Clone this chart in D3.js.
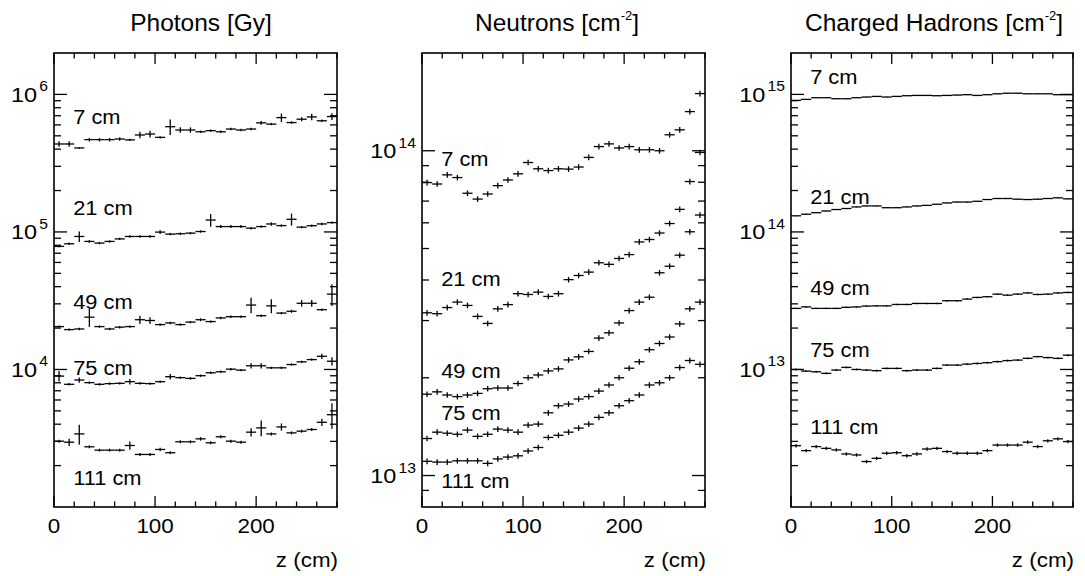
<!DOCTYPE html>
<html>
<head>
<meta charset="utf-8">
<script src="https://cdn.jsdelivr.net/npm/d3@7"></script>
<style>
  body { margin: 0; background: #fff; }
  svg { display: block; font-family: "Liberation Sans", Arial, Helvetica, sans-serif; }
</style>
</head>
<body>
<svg id="chart" width="1085" height="576"></svg>
<script>
// bins are 10 cm wide, centres at 5, 15, ... 275
const zCentres = d3.range(5, 280, 10);
const binHalfWidth = 5;
const radii = ['7 cm', '21 cm', '49 cm', '75 cm', '111 cm'];
const xTickLabels = [0, 100, 200];

// Photons [Gy]
const photons7 = [4.36e5, 4.36e5, 4.08e5, 4.69e5, 4.69e5, 4.69e5, 4.74e5, 4.67e5, 5.07e5, 5.15e5, 4.87e5, 5.82e5, 5.51e5, 5.51e5,
    5.35e5, 5.45e5, 5.35e5, 5.6e5, 5.51e5, 5.6e5, 6.21e5, 6.08e5, 6.78e5, 6.24e5, 6.6e5, 6.86e5, 6.43e5, 6.9e5];
const photons21 = [7.85e4, 8.2e4, 9.27e4, 8.53e4, 8.3e4, 8.53e4, 8.9e4, 9.27e4, 9.27e4, 9.27e4, 9.97e4, 9.64e4, 9.7e4, 9.8e4,
    1.007e5, 1.22e5, 1.094e5, 1.094e5, 1.094e5, 1.065e5, 1.094e5, 1.143e5, 1.112e5, 1.236e5, 1.083e5, 1.11e5, 1.143e5, 1.169e5];
const photons49 = [2.05e4, 1.95e4, 1.97e4, 2.40e4, 2.05e4, 1.97e4, 2.03e4, 2.05e4, 2.30e4, 2.27e4, 2.12e4, 2.18e4, 2.12e4, 2.21e4,
    2.30e4, 2.23e4, 2.37e4, 2.42e4, 2.42e4, 2.94e4, 2.46e4, 2.9e4, 2.57e4, 2.65e4, 3.03e4, 3.03e4, 2.72e4, 3.53e4];
const photons75 = [8.95e3, 7.8e3, 8.38e3, 8.02e3, 7.8e3, 7.89e3, 7.93e3, 8.15e3, 7.93e3, 7.89e3, 8.15e3, 8.86e3, 8.72e3, 8.61e3,
    9.01e3, 9.46e3, 9.62e3, 1.005e4, 9.89e3, 1.064e4, 1.064e4, 1.028e4, 1.028e4, 1.086e4, 1.136e4, 1.18e4, 1.247e4, 1.148e4];
const photons111 = [3.01e3, 2.96e3, 3.40e3, 2.74e3, 2.59e3, 2.59e3, 2.59e3, 2.80e3, 2.41e3, 2.41e3, 2.62e3, 2.48e3, 2.98e3, 2.98e3,
    3.13e3, 2.93e3, 3.24e3, 3.01e3, 2.96e3, 3.5e3, 3.76e3, 3.40e3, 3.82e3, 3.46e3, 3.56e3, 3.66e3, 4.13e3, 4.69e3];
// relative errors of the photon doses
const photonErr7 = [.045, .045, .012, .03, .03, .03, .03, .02, .055, .055, .02, .13, .045, .045,
    .02, .02, .02, .02, .02, .02, .03, .02, .07, .02, .035, .055, .02, .055];
const photonErr21 = [.02, .02, .087, .025, .02, .02, .02, .02, .02, .02, .03, .02, .02, .02,
    .02, .105, .025, .025, .025, .02, .02, .03, .02, .1, .02, .02, .02, .02];
const photonErr49 = [.02, .02, .02, .15, .02, .02, .02, .02, .069, .055, .02, .02, .02, .02,
    .025, .02, .02, .02, .02, .13, .02, .117, .02, .025, .055, .055, .02, .18];
const photonErr75 = [.087, .02, .045, .02, .02, .02, .02, .045, .02, .02, .02, .045, .02, .02,
    .02, .02, .02, .02, .02, .045, .045, .02, .02, .02, .02, .02, .045, .07];
const photonErr111 = [.025, .06, .167, .025, .025, .025, .025, .07, .025, .025, .03, .025, .025, .025,
    .03, .025, .025, .025, .025, .07, .13, .025, .06, .025, .025, .025, .06, .21];

// Neutrons [cm^-2]
const neutrons7 = [7.98e13, 7.9e13, 8.43e13, 8.27e13, 7.4e13, 7.1e13, 7.36e13, 7.81e13, 8.13e13, 8.49e13, 9.2e13, 8.8e13, 8.69e13, 8.8e13,
    8.78e13, 8.91e13, 9.54e13, 1.03e14, 1.05e14, 1.02e14, 1.03e14, 1.007e14, 1.007e14, 1.0e14, 1.12e14, 1.16e14, 1.32e14, 1.5e14];
const neutrons21 = [3.17e13, 3.15e13, 3.29e13, 3.42e13, 3.34e13, 3.09e13, 2.94e13, 3.26e13, 3.36e13, 3.63e13, 3.61e13, 3.67e13, 3.56e13, 3.63e13,
    4.01e13, 4.13e13, 4.23e13, 4.52e13, 4.47e13, 4.66e13, 4.79e13, 5.24e13, 5.33e13, 5.58e13, 5.97e13, 6.6e13, 8.04e13, 9.88e13];
const neutrons49 = [1.78e13, 1.81e13, 1.77e13, 1.75e13, 1.77e13, 1.79e13, 1.85e13, 1.86e13, 1.86e13, 1.92e13, 2.0e13, 2.04e13, 2.1e13, 2.13e13,
    2.27e13, 2.32e13, 2.41e13, 2.65e13, 2.75e13, 2.95e13, 3.22e13, 3.42e13, 3.54e13, 4.21e13, 4.41e13, 4.77e13, 5.63e13, 6.34e13];
const neutrons75 = [1.30e13, 1.36e13, 1.35e13, 1.34e13, 1.38e13, 1.32e13, 1.34e13, 1.39e13, 1.38e13, 1.36e13, 1.43e13, 1.44e13, 1.56e13, 1.64e13,
    1.66e13, 1.72e13, 1.75e13, 1.82e13, 1.90e13, 2.0e13, 2.14e13, 2.24e13, 2.44e13, 2.55e13, 2.67e13, 2.93e13, 3.26e13, 3.42e13];
const neutrons111 = [1.106e13, 1.10e13, 1.10e13, 1.11e13, 1.11e13, 1.11e13, 1.09e13, 1.125e13, 1.14e13, 1.15e13, 1.19e13, 1.22e13, 1.31e13, 1.33e13,
    1.36e13, 1.40e13, 1.44e13, 1.51e13, 1.56e13, 1.64e13, 1.70e13, 1.77e13, 1.90e13, 1.93e13, 2.0e13, 2.15e13, 2.26e13, 2.2e13];
const neutronErr = [.02, .02, .02, .02, .02];

// Charged hadrons [cm^-2]
const hadrons7 = [9.05e14, 9.2e14, 9.46e14, 9.46e14, 9.3e14, 9.3e14, 9.46e14, 9.57e14, 9.67e14, 9.57e14, 9.67e14, 9.78e14, 9.83e14, 9.83e14,
    9.78e14, 9.83e14, 9.89e14, 9.95e14, 9.83e14, 9.95e14, 1.01e15, 1.02e15, 1.02e15, 1.01e15, 1.01e15, 1.01e15, 9.95e14, 9.95e14];
const hadrons21 = [1.31e14, 1.345e14, 1.38e14, 1.42e14, 1.455e14, 1.48e14, 1.52e14, 1.545e14, 1.545e14, 1.50e14, 1.50e14, 1.52e14, 1.545e14, 1.56e14,
    1.59e14, 1.625e14, 1.65e14, 1.65e14, 1.67e14, 1.72e14, 1.75e14, 1.75e14, 1.73e14, 1.72e14, 1.73e14, 1.75e14, 1.77e14, 1.74e14];
const hadrons49 = [2.78e13, 2.85e13, 2.78e13, 2.78e13, 2.78e13, 2.83e13, 2.85e13, 2.89e13, 2.90e13, 2.90e13, 2.97e13, 2.97e13, 3.02e13, 3.02e13,
    3.02e13, 3.16e13, 3.16e13, 3.25e13, 3.34e13, 3.38e13, 3.53e13, 3.47e13, 3.53e13, 3.6e13, 3.51e13, 3.53e13, 3.6e13, 3.63e13];
const hadrons75 = [1.0e13, 9.73e12, 9.62e12, 9.37e12, 9.9e12, 1.035e13, 1.0e13, 9.9e12, 9.8e12, 1.018e13, 1.018e13, 9.8e12, 9.9e12, 9.9e12,
    1.018e13, 1.076e13, 1.076e13, 1.094e13, 1.106e13, 1.12e13, 1.14e13, 1.16e13, 1.17e13, 1.205e13, 1.24e13, 1.22e13, 1.205e13, 1.27e13];
const hadrons111 = [2.79e12, 2.57e12, 2.75e12, 2.67e12, 2.60e12, 2.43e12, 2.39e12, 2.14e12, 2.26e12, 2.46e12, 2.48e12, 2.36e12, 2.43e12, 2.64e12,
    2.67e12, 2.53e12, 2.46e12, 2.46e12, 2.46e12, 2.57e12, 2.82e12, 2.82e12, 2.82e12, 2.96e12, 2.75e12, 3.03e12, 3.13e12, 2.99e12];
const hadronErr = [.004, .006, .012, .016, .028];

// decades that get a "10^n" label, and where each radius label sits (value units)
const photonDecades = [4, 5, 6];
const neutronDecades = [13, 14];
const hadronDecades = [13, 14, 15];
const photonLabelAt = [6.1e5, 1.33e5, 2.75e4, 9.1e3, 1.45e3];
const neutronLabelAt = [9.0e13, 3.83e13, 2.0e13, 1.48e13, 9.15e12];
const hadronLabelAt = [1.19e15, 1.6e14, 3.48e13, 1.23e13, 3.4e12];

const panels = [
    { title: 'Photons [Gy]', unitSup: null, titleX: 201, left: 54, right: 337, yDomain: [1e3, 2e6],
      series: [photons7, photons21, photons49, photons75, photons111],
      errors: [photonErr7, photonErr21, photonErr49, photonErr75, photonErr111],
      decades: photonDecades, labelAt: photonLabelAt },
    { title: 'Neutrons [cm', unitSup: '-2', titleX: 557, left: 422, right: 705, yDomain: [8e12, 2e14],
      series: [neutrons7, neutrons21, neutrons49, neutrons75, neutrons111],
      errors: neutronErr, decades: neutronDecades, labelAt: neutronLabelAt },
    { title: 'Charged Hadrons [cm', unitSup: '-2', titleX: 934, left: 791, right: 1073, yDomain: [1e12, 2e15],
      series: [hadrons7, hadrons21, hadrons49, hadrons75, hadrons111],
      errors: hadronErr, decades: hadronDecades, labelAt: hadronLabelAt }
];

const plotTop = 53, plotBottom = 507;
const SX = 1.12; // the labels in the original are a bit wide
const svg = d3.select('#chart');

function wideText(g, x, y, anchor, size) {
    return g.append('text')
        .attr('transform', `translate(${x},${y}) scale(${SX},1)`)
        .attr('text-anchor', anchor)
        .attr('font-size', size)
        .attr('fill', '#000');
}

panels.forEach(p => {
    const g = svg.append('g');
    const x = d3.scaleLinear().domain([0, 280]).range([p.left, p.right]);
    const y = d3.scaleLog().domain(p.yDomain).range([plotBottom, plotTop]);

    // title
    const t = g.append('text')
        .attr('x', p.titleX).attr('y', 31)
        .attr('text-anchor', 'middle')
        .attr('font-size', 24.5)
        .text(p.title);
    if (p.unitSup) {
        t.append('tspan').attr('font-size', 13).attr('dy', -11).text(p.unitSup);
        t.append('tspan').attr('font-size', 24.5).attr('dy', 11).text(']');
    }

    // ticks on all four sides, pointing inward
    const ticks = g.append('g').attr('stroke', '#000').attr('stroke-width', 1.3);
    const xMinor = d3.range(0, 281, 20);
    xMinor.forEach(v => {
        const len = v % 100 === 0 ? 11 : 5.5;
        ticks.append('line').attr('x1', x(v)).attr('x2', x(v)).attr('y1', plotBottom).attr('y2', plotBottom - len);
        ticks.append('line').attr('x1', x(v)).attr('x2', x(v)).attr('y1', plotTop).attr('y2', plotTop + len);
    });
    const lo = Math.floor(Math.log10(p.yDomain[0])), hi = Math.ceil(Math.log10(p.yDomain[1]));
    for (let d = lo; d <= hi; d++) {
        for (let k = 1; k <= 9; k++) {
            const v = k * Math.pow(10, d);
            if (v <= p.yDomain[0] * 1.0001 || v >= p.yDomain[1] * 0.9999) continue;
            const len = k === 1 ? 13 : 7;
            ticks.append('line').attr('x1', p.left).attr('x2', p.left + len).attr('y1', y(v)).attr('y2', y(v));
            ticks.append('line').attr('x1', p.right).attr('x2', p.right - len).attr('y1', y(v)).attr('y2', y(v));
        }
    }

    // frame
    g.append('rect')
        .attr('x', p.left).attr('y', plotTop)
        .attr('width', p.right - p.left).attr('height', plotBottom - plotTop)
        .attr('fill', 'none').attr('stroke', '#000').attr('stroke-width', 1.6);

    // y labels 10^n
    p.decades.forEach(d => {
        const lab = wideText(g, p.left - 6, y(Math.pow(10, d)) + 7.5, 'end', 21);
        lab.append('tspan').text('10');
        lab.append('tspan').attr('font-size', 14).attr('dy', -10.5).attr('dx', 2).text(d);
    });

    // x labels
    xTickLabels.forEach(v => {
        wideText(g, x(v), 533, 'middle', 20).text(v);
    });
    wideText(g, p.right + 1, 567, 'end', 20).text('z (cm)');

    // data: horizontal bin bar + vertical error bar
    const marks = g.append('g').attr('stroke', '#000').attr('stroke-width', 1.3);
    p.series.forEach((vals, si) => {
        const err = Array.isArray(p.errors[si]) ? p.errors[si] : vals.map(() => p.errors[si]);
        vals.forEach((v, i) => {
            const z = zCentres[i];
            marks.append('line')
                .attr('x1', x(z - binHalfWidth)).attr('x2', x(z + binHalfWidth))
                .attr('y1', y(v)).attr('y2', y(v));
            marks.append('line')
                .attr('x1', x(z)).attr('x2', x(z))
                .attr('y1', y(v * (1 - err[i]))).attr('y2', y(v * (1 + err[i])));
        });

        wideText(g, x(19), y(p.labelAt[si]), 'start', 19.5).text(radii[si]);
    });
});
</script>
</body>
</html>
